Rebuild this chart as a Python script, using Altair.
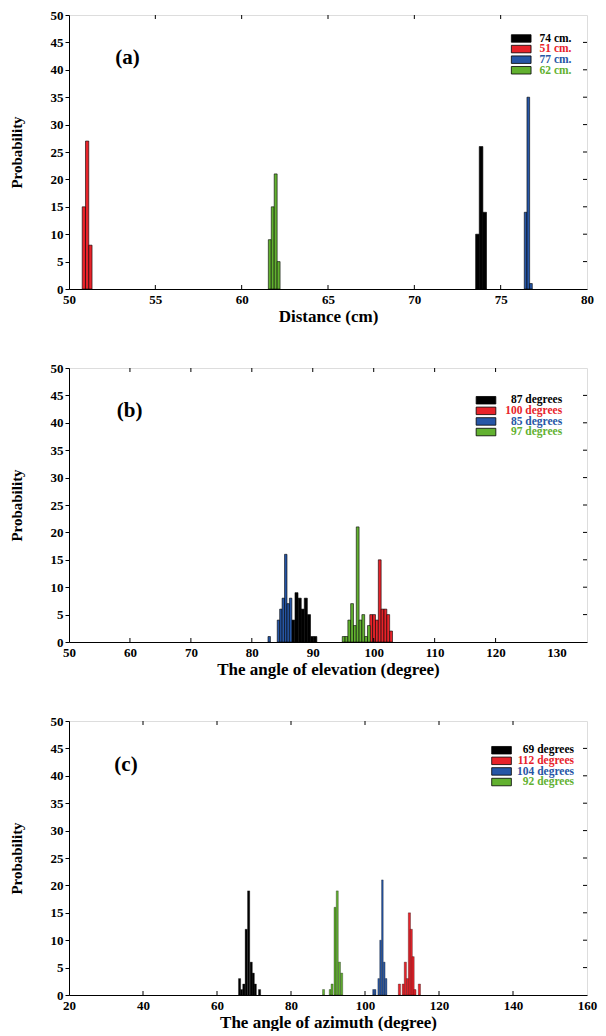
import altair as alt
import pandas as pd

FONT = "Liberation Serif"
COLORS = ["#000000", "#e8232a", "#2656a6", "#62b130"]

# ---------------- Panel (a): distance (cm) ----------------
A_LABELS = ["74 cm.", "51 cm.", "77 cm.", "62 cm."]
A_WIDTHS = [0.21, 0.19, 0.155, 0.17]
A74_X = [73.655, 73.865, 74.075]
A74_P = [10, 26, 14]
A51_X = [50.86, 51.05, 51.24]
A51_P = [15, 27, 8]
A77_X = [76.445, 76.60, 76.755]
A77_P = [14, 35, 1]
A62_X = [61.63, 61.80, 61.97, 62.14]
A62_P = [9, 15, 21, 5]
A_XTICKS = [50, 55, 60, 65, 70, 75, 80]

# ---------------- Panel (b): elevation (degree) ----------------
B_LABELS = ["87 degrees", "100 degrees", "85 degrees", "97 degrees"]
B_WIDTHS = [0.5, 0.465, 0.4, 0.46]
B87_X = [86.8, 87.33, 87.86, 88.34, 88.86, 89.38, 89.9, 90.42]
B87_P = [4, 9, 8, 6, 8, 5, 1, 1]
B100_X = [99.59, 100.06, 100.52, 100.99, 101.45, 101.92, 102.38, 102.85]
B100_P = [5, 5, 4, 15, 6, 6, 5, 2]
B85_X = [82.85, 84.37, 84.77, 85.17, 85.57, 85.97, 86.37]
B85_P = [1, 4, 6, 8, 16, 7, 8]
B97_X = [95.07, 95.53, 95.99, 96.45, 96.91, 97.37, 97.83, 98.29, 98.75, 99.21]
B97_P = [1, 1, 4, 7, 3, 21, 4, 5, 1, 3]
B_XTICKS = [50, 60, 70, 80, 90, 100, 110, 120, 130]

# ---------------- Panel (c): azimuth (degree) ----------------
C_LABELS = ["69 degrees", "112 degrees", "104 degrees", "92 degrees"]
C_WIDTHS = [0.6, 0.6, 0.45, 0.55]
C69_X = [66.1, 66.65, 67.25, 67.9, 68.55, 69.25, 69.8, 70.35, 71.5]
C69_P = [3, 1, 2, 12, 19, 6, 4, 2, 1]
C112_X = [109.3, 110.35, 110.9, 111.5, 112.0, 112.5, 113.0, 113.5, 114.7]
C112_P = [2, 2, 6, 3, 15, 12, 7, 1, 2]
C104_X = [102.3, 102.75, 103.7, 104.2, 104.7, 105.2, 105.7]
C104_P = [1, 1, 3, 10, 21, 6, 3]
C92_X = [88.8, 90.6, 91.1, 91.9, 92.5, 93.1, 93.7]
C92_P = [1, 1, 2, 16, 19, 6, 4]
C_XTICKS = [20, 40, 60, 80, 100, 120, 140, 160]

Y_TICKS = [0, 5, 10, 15, 20, 25, 30, 35, 40, 45, 50]
YMAX = 50

W = 518
H = 274
TICK = 4  # px length of inner ticks
ROW = 10.6  # legend row step (px)


def panel(xs, ps, widths, labels, xmin, xmax, xticks, xtitle, tag, leg, sw):
    rows = []
    for k, (cx, pv, w, lab) in enumerate(zip(xs, ps, widths, labels)):
        for c, p in zip(cx, pv):
            rows.append({"x0": c - w / 2, "x1": c + w / 2, "p": p, "s": lab, "k": k})
    df = pd.DataFrame(rows)
    xscale = alt.Scale(domain=[xmin, xmax], nice=False, zero=False)
    yscale = alt.Scale(domain=[0, YMAX], nice=False)
    xaxis = alt.Axis(values=xticks, title=xtitle, tickSize=0, labelPadding=4,
                     labelFont=FONT, labelFontWeight="bold", labelFontSize=13,
                     labelColor="black", titleFont=FONT, titleFontWeight="bold",
                     titleFontSize=17, titleColor="black", titlePadding=2,
                     grid=False, domainColor="black", labelFlush=False,
                     labelOverlap=False)
    yaxis = alt.Axis(values=Y_TICKS, title="Probability", tickSize=4,
                     tickColor="black", labelPadding=2, labelFont=FONT,
                     labelFontWeight="bold", labelFontSize=13, labelColor="black",
                     titleFont=FONT, titleFontWeight="bold", titleFontSize=15,
                     titleColor="black", titlePadding=26, grid=False,
                     domainColor="black", labelOverlap=False, labelFlush=False)

    bars = alt.Chart(df).mark_rect(stroke="black", strokeWidth=sw).encode(
        x=alt.X("x0:Q", scale=xscale, axis=xaxis),
        x2="x1:Q",
        y=alt.Y("p:Q", scale=yscale, axis=yaxis),
        y2=alt.datum(0),
        color=alt.Color("s:N", scale=alt.Scale(domain=labels, range=COLORS), legend=None),
        order="k:Q",
    )

    dx = (xmax - xmin) * TICK / W
    dy = YMAX * TICK / H
    xt = pd.DataFrame({"t": xticks[1:-1]})
    yt = pd.DataFrame({"t": Y_TICKS[1:-1]})
    bot = alt.Chart(xt).mark_rule(color="black", strokeWidth=1).encode(
        x=alt.X("t:Q", scale=xscale, axis=xaxis),
        y=alt.YDatum(0, scale=yscale, axis=yaxis), y2=alt.datum(dy))
    top = alt.Chart(xt).mark_rule(color="black", strokeWidth=1).encode(
        x=alt.X("t:Q", scale=xscale, axis=xaxis),
        y=alt.YDatum(YMAX, scale=yscale, axis=yaxis), y2=alt.datum(YMAX - dy))
    right = alt.Chart(yt).mark_rule(color="black", strokeWidth=1).encode(
        y=alt.Y("t:Q", scale=yscale, axis=yaxis),
        x=alt.XDatum(xmax, scale=xscale, axis=xaxis), x2=alt.datum(xmax - dx))

    layers = [bars, bot, top, right]

    # panel tag
    tagdf = pd.DataFrame({"t": [tag]})
    layers.append(alt.Chart(tagdf).mark_text(
        font=FONT, fontWeight="bold", fontSize=21, color="black",
        align="center", baseline="middle").encode(
        text="t:N", x=alt.value(leg["tag"][0] * W), y=alt.value(leg["tag"][1] * H)))

    # legend
    rx0, rx1, tx, y0 = leg["rx0"], leg["rx1"], leg["tx"], leg["y0"]
    for i, (lab, col) in enumerate(zip(labels, COLORS)):
        yy = y0 * H + i * ROW
        ldf = pd.DataFrame({"label": [lab]})
        layers.append(alt.Chart(ldf).mark_rect(fill=col, stroke="black", strokeWidth=0.8).encode(
            x=alt.value(rx0 * W), x2=alt.value(rx1 * W),
            y=alt.value(yy), y2=alt.value(yy + 7.5)))
        layers.append(alt.Chart(ldf).mark_text(
            font=FONT, fontWeight="bold", fontSize=11.5, color=col,
            align="right", baseline="middle").encode(
            text="label:N", x=alt.value(tx * W), y=alt.value(yy + 4)))

    return alt.layer(*layers).properties(width=W, height=H)


pa = panel([A74_X, A51_X, A77_X, A62_X], [A74_P, A51_P, A77_P, A62_P], A_WIDTHS, A_LABELS,
           50, 80, A_XTICKS, "Distance (cm)", "(a)",
           {"tag": (0.113, 0.156), "rx0": 0.854, "rx1": 0.892, "tx": 0.970, "y0": 0.072}, 0.6)
pb = panel([B87_X, B100_X, B85_X, B97_X], [B87_P, B100_P, B85_P, B97_P], B_WIDTHS, B_LABELS,
           50, 135, B_XTICKS, "The angle of elevation (degree)", "(b)",
           {"tag": (0.117, 0.157), "rx0": 0.786, "rx1": 0.824, "tx": 0.952, "y0": 0.104}, 0.6)
pc = panel([C69_X, C112_X, C104_X, C92_X], [C69_P, C112_P, C104_P, C92_P], C_WIDTHS, C_LABELS,
           20, 160, C_XTICKS, "The angle of azimuth (degree)", "(c)",
           {"tag": (0.110, 0.159), "rx0": 0.816, "rx1": 0.854, "tx": 0.975, "y0": 0.093}, 0.3)

chart = alt.vconcat(pa, pb, pc, spacing=36).properties(
    padding={"left": 0, "top": 0, "right": 0, "bottom": 0}
).configure_view(stroke="black", strokeWidth=1.2).configure(background="white")

chart.save("out.html", embed_options={"renderer": "svg", "actions": False})
